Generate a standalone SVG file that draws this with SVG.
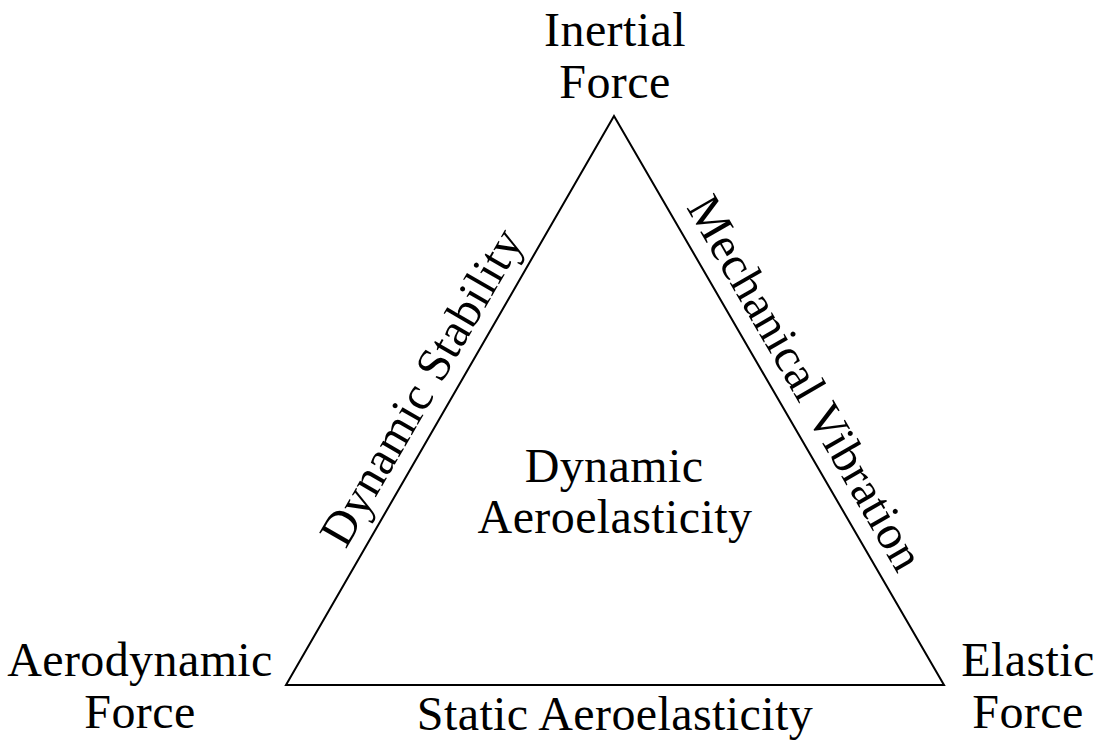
<svg xmlns="http://www.w3.org/2000/svg" width="1102" height="745" viewBox="0 0 1102 745">
  <style>
    text { font-family: "Liberation Serif", "DejaVu Serif", serif; font-size: 48px; letter-spacing: 0.4px; fill: #000; text-anchor: middle; }
    .edge { fill: none; stroke: #000; stroke-width: 2; stroke-linejoin: miter; }
  </style>
  <rect width="1102" height="745" fill="#fff"/>

  <!-- triangle sides -->
  <g id="connectors">
    <polygon class="edge" points="614,116 944,685 286,685"/>
  </g>

  <!-- corner labels -->
  <g id="inertial-force">
    <text x="615" y="46">Inertial</text>
    <text x="615" y="98">Force</text>
  </g>
  <g id="aerodynamic-force">
    <text x="140" y="676">Aerodynamic</text>
    <text x="140" y="728">Force</text>
  </g>
  <g id="elastic-force">
    <text x="1028" y="676">Elastic</text>
    <text x="1028" y="728">Force</text>
  </g>

  <!-- side labels -->
  <g id="dynamic-stability">
    <text transform="translate(435,395) rotate(-60)" x="0" y="0">Dynamic Stability</text>
  </g>
  <g id="mechanical-vibration">
    <text transform="translate(792,391) rotate(60)" x="0" y="0">Mechanical Vibration</text>
  </g>
  <g id="static-aeroelasticity">
    <text x="615" y="730">Static Aeroelasticity</text>
  </g>

  <!-- centre label -->
  <g id="dynamic-aeroelasticity">
    <text x="614" y="482">Dynamic</text>
    <text x="615" y="533">Aeroelasticity</text>
  </g>
</svg>
